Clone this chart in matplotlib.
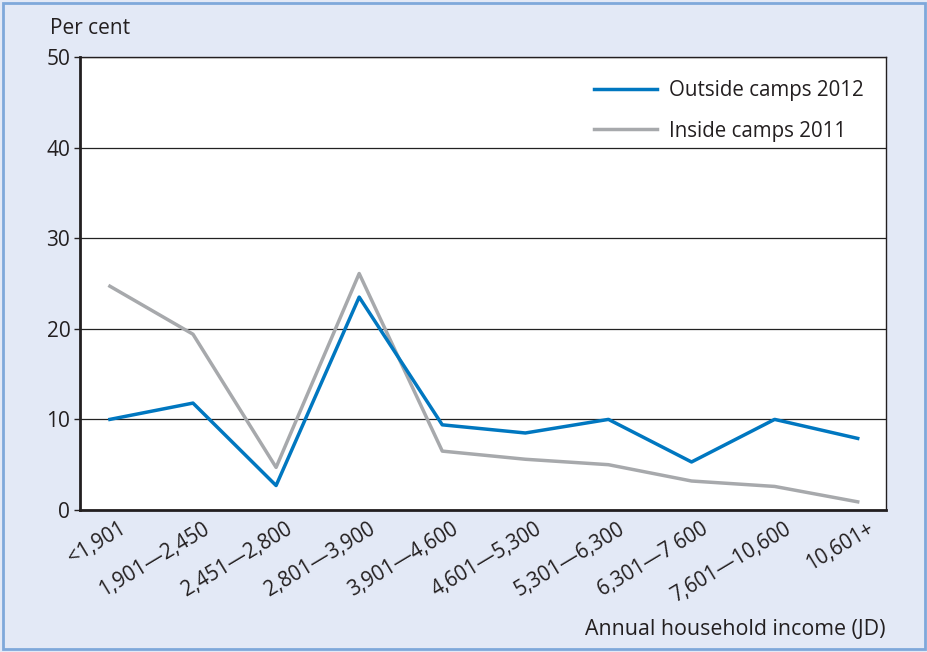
import matplotlib
matplotlib.use('Agg')
import matplotlib.pyplot as plt
import matplotlib.transforms as mtransforms
from matplotlib.patches import Rectangle

# income bands (JD) and shares in per cent
categories = ['<1,901', '1,901\u20142,450', '2,451\u20142,800', '2,801\u20143,900', '3,901\u20144,600',
              '4,601\u20145,300', '5,301\u20146,300', '6,301\u20147 600', '7,601\u201410,600', '10,601+']
outside_2012 = [10.0, 11.8, 2.7, 23.5, 9.4, 8.5, 10.0, 5.3, 10.0, 7.9]
inside_2011 = [24.7, 19.4, 4.7, 26.1, 6.5, 5.6, 5.0, 3.2, 2.6, 0.9]

bg = '#E3E9F6'
blue = '#0077C0'
grey = '#A7A9AC'
ink = '#231F20'
plt.rcParams['font.family'] = ['Open Sans', 'DejaVu Sans']

fig = plt.figure(figsize=(9.28, 6.52), dpi=100)
fig.patch.set_facecolor(bg)
fig.patches.append(Rectangle((0.003, 0.004), 0.994, 0.992, transform=fig.transFigure,
                             fill=False, edgecolor='#7FA8DA', linewidth=2))

ax = fig.add_axes([0.0862, 0.2178, 0.8685, 0.6948])
ax.set_facecolor('white')
x = list(range(len(categories)))
ax.plot(x, inside_2011, color=grey, linewidth=2.5, label='Inside camps 2011', zorder=3)
ax.plot(x, outside_2012, color=blue, linewidth=2.5, label='Outside camps 2012', zorder=4)

ax.set_ylim(0, 50)
ax.set_xlim(-0.36, 9.34)
ax.set_yticks([0, 10, 20, 30, 40, 50])
ax.grid(axis='y', color='#222222', linewidth=0.9)
ax.set_axisbelow(True)
ax.tick_params(axis='y', length=4, width=1, labelsize=15, colors=ink, pad=3)
ax.tick_params(axis='x', length=0, pad=6)
ax.set_xticks(x)
ax.set_xticklabels(categories, rotation=31, ha='right', va='top', rotation_mode='anchor',
                   fontsize=14.8, color=ink)
shift = mtransforms.ScaledTranslation(9 / 100, 0, fig.dpi_scale_trans)
for lab in ax.get_xticklabels():
    lab.set_transform(lab.get_transform() + shift)
for s in ['left', 'bottom']:
    ax.spines[s].set_linewidth(2)
for s in ['top', 'right']:
    ax.spines[s].set_linewidth(1)
for s in ax.spines.values():
    s.set_color(ink)

handles, labels = ax.get_legend_handles_labels()
leg = ax.legend(handles[::-1], labels[::-1], loc='upper right', frameon=False, fontsize=14.8,
                handlelength=3.1, handletextpad=0.55, labelspacing=0.95,
                bbox_to_anchor=(0.995, 0.99))
for t in leg.get_texts():
    t.set_color(ink)

fig.text(0.054, 0.957, 'Per cent', fontsize=15, color=ink, va='center', ha='left')
fig.text(0.9547, 0.035, 'Annual household income (JD)', fontsize=15.4, color=ink,
         ha='right', va='center')

fig.savefig('out.png', dpi=100, facecolor=bg)
